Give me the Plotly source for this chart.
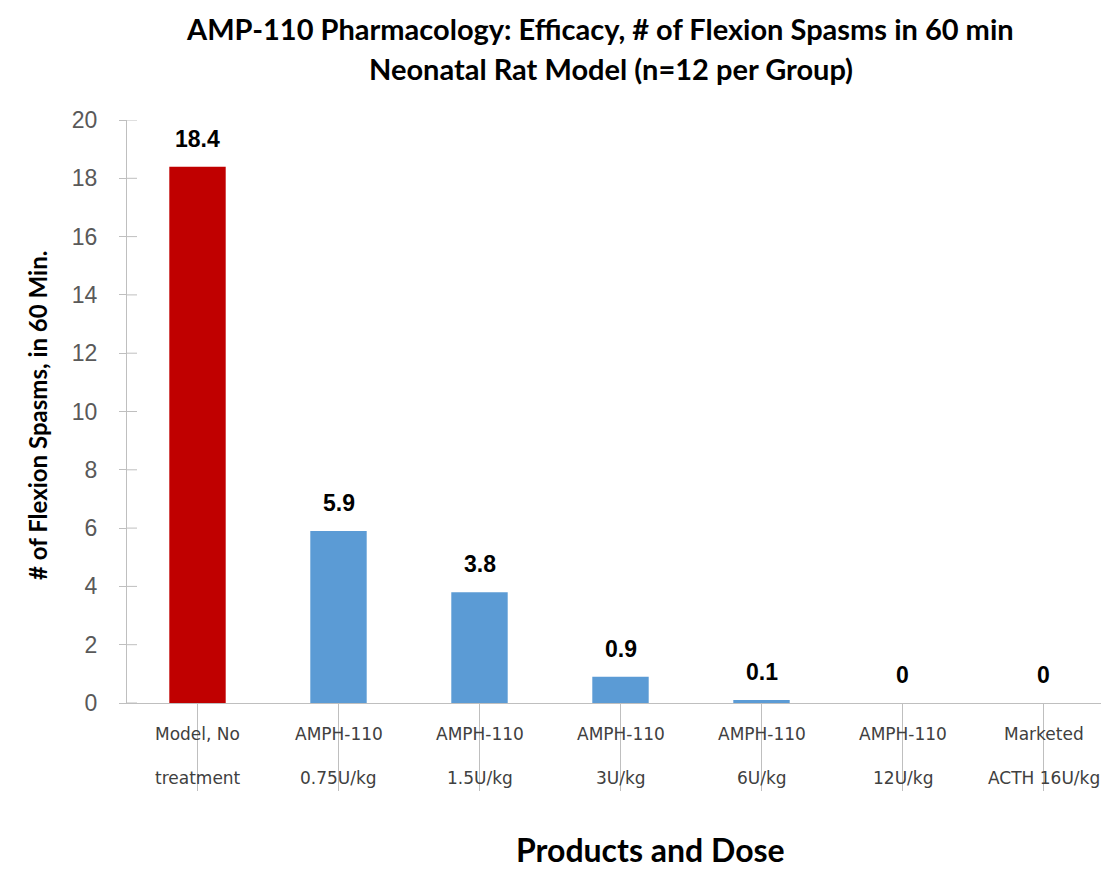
import plotly.graph_objects as go

categories = ["Model, No treatment", "AMPH-110 0.75U/kg", "AMPH-110 1.5U/kg",
              "AMPH-110 3U/kg", "AMPH-110 6U/kg", "AMPH-110 12U/kg", "Marketed ACTH 16U/kg"]
label_line1 = ["Model, No", "AMPH-110", "AMPH-110", "AMPH-110", "AMPH-110", "AMPH-110", "Marketed"]
label_line2 = ["treatment", "0.75U/kg", "1.5U/kg", "3U/kg", "6U/kg", "12U/kg", "ACTH 16U/kg"]
values = [18.4, 5.9, 3.8, 0.9, 0.1, 0, 0]
value_text = ["18.4", "5.9", "3.8", "0.9", "0.1", "0", "0"]
bar_colors = ["#C00000", "#5B9BD5", "#5B9BD5", "#5B9BD5", "#5B9BD5", "#5B9BD5", "#5B9BD5"]
y_ticks = [0, 2, 4, 6, 8, 10, 12, 14, 16, 18, 20]

title_line1 = "AMP-110 Pharmacology: Efficacy, # of Flexion Spasms in 60 min"
title_line2 = "Neonatal Rat Model (n=12 per Group)"
y_title = "# of Flexion Spasms, in 60 Min."
x_title = "Products and Dose"

# page body has an 8px margin, so the figure is drawn 8px smaller
OFF = 8
W, H = 1109 - OFF, 869 - OFF
PLOT_L, PLOT_T, PLOT_B = 127, 120, 703          # page coordinates
ML, MT = PLOT_L - OFF, PLOT_T - OFF
MB = H - (PLOT_B - OFF)
MR = 0
PW = W - ML - MR
PH = H - MT - MB
CAT_W = 141.0

TITLE_FONT = "Lato, sans-serif"
AXIS_GREY = "#BFBFBF"

x_idx = list(range(len(categories)))

fig = go.Figure()
fig.add_trace(go.Bar(
    x=x_idx, y=values, marker=dict(color=bar_colors, line=dict(width=0)),
    width=0.4, hoverinfo="skip", showlegend=False,
))

annotations = []
for i, (v, t) in enumerate(zip(values, value_text)):
    annotations.append(dict(x=i, y=v, xref="x", yref="y", text="<b>%s</b>" % t,
                            showarrow=False, yanchor="bottom", yshift=13,
                            font=dict(family="Liberation Sans, Arial, sans-serif", size=23, color="#000000")))
for i, (a, b) in enumerate(zip(label_line1, label_line2)):
    annotations.append(dict(x=i, y=0, xref="x", yref="paper", text=a, showarrow=False,
                            yanchor="middle", yshift=-31,
                            font=dict(family="DejaVu Sans, sans-serif", size=17, color="#404040")))
    annotations.append(dict(x=i, y=0, xref="x", yref="paper", text=b, showarrow=False,
                            yanchor="middle", yshift=-75,
                            font=dict(family="DejaVu Sans, sans-serif", size=17, color="#404040")))

def px_x(page_x):
    return (page_x - PLOT_L) / PW

annotations.append(dict(x=px_x(600), y=1, xref="paper", yref="paper", text="<b>%s</b>" % title_line1,
                        showarrow=False, yanchor="middle", yshift=PLOT_T - 28,
                        font=dict(family=TITLE_FONT, size=29, color="#000000")))
annotations.append(dict(x=px_x(611), y=1, xref="paper", yref="paper", text="<b>%s</b>" % title_line2,
                        showarrow=False, yanchor="middle", yshift=PLOT_T - 68,
                        font=dict(family=TITLE_FONT, size=29, color="#000000")))
annotations.append(dict(x=0, y=(PLOT_B - 416) / PH, xref="paper", yref="paper",
                        text="<b>%s</b>" % y_title, textangle=-90, showarrow=False,
                        xanchor="center", yanchor="middle", xshift=37 - PLOT_L,
                        font=dict(family=TITLE_FONT, size=24, color="#000000")))
annotations.append(dict(x=px_x(650), y=0, xref="paper", yref="paper", text="<b>%s</b>" % x_title,
                        showarrow=False, yanchor="middle", yshift=-(849 - PLOT_B),
                        font=dict(family=TITLE_FONT, size=32, color="#000000")))

shapes = []
for t in y_ticks:
    shapes.append(dict(type="line", xref="paper", yref="y", x0=0, x1=10 / PW, y0=t, y1=t,
                       line=dict(color=AXIS_GREY, width=1)))

fig.update_layout(
    width=W, height=H,
    margin=dict(l=ML, r=MR, t=MT, b=MB, pad=0),
    paper_bgcolor="white", plot_bgcolor="white",
    annotations=annotations,
    shapes=shapes,
    xaxis=dict(
        range=[-0.5, -0.5 + PW / CAT_W], tickmode="array", tickvals=x_idx,
        showticklabels=False, tickson="boundaries", ticks="outside", ticklen=87,
        tickcolor=AXIS_GREY, tickwidth=1, showline=True, linecolor=AXIS_GREY, linewidth=1,
        showgrid=False, zeroline=False, fixedrange=True,
    ),
    yaxis=dict(
        range=[0, 20], tickmode="array", tickvals=y_ticks,
        ticks="outside", ticklen=7, tickcolor=AXIS_GREY, tickwidth=1,
        showline=True, linecolor=AXIS_GREY, linewidth=1,
        showgrid=False, zeroline=False, ticklabelstandoff=17,
        tickfont=dict(family="Liberation Sans, Arial, sans-serif", size=23, color="#595959"),
    ),
)

fig.write_html("out.html")
